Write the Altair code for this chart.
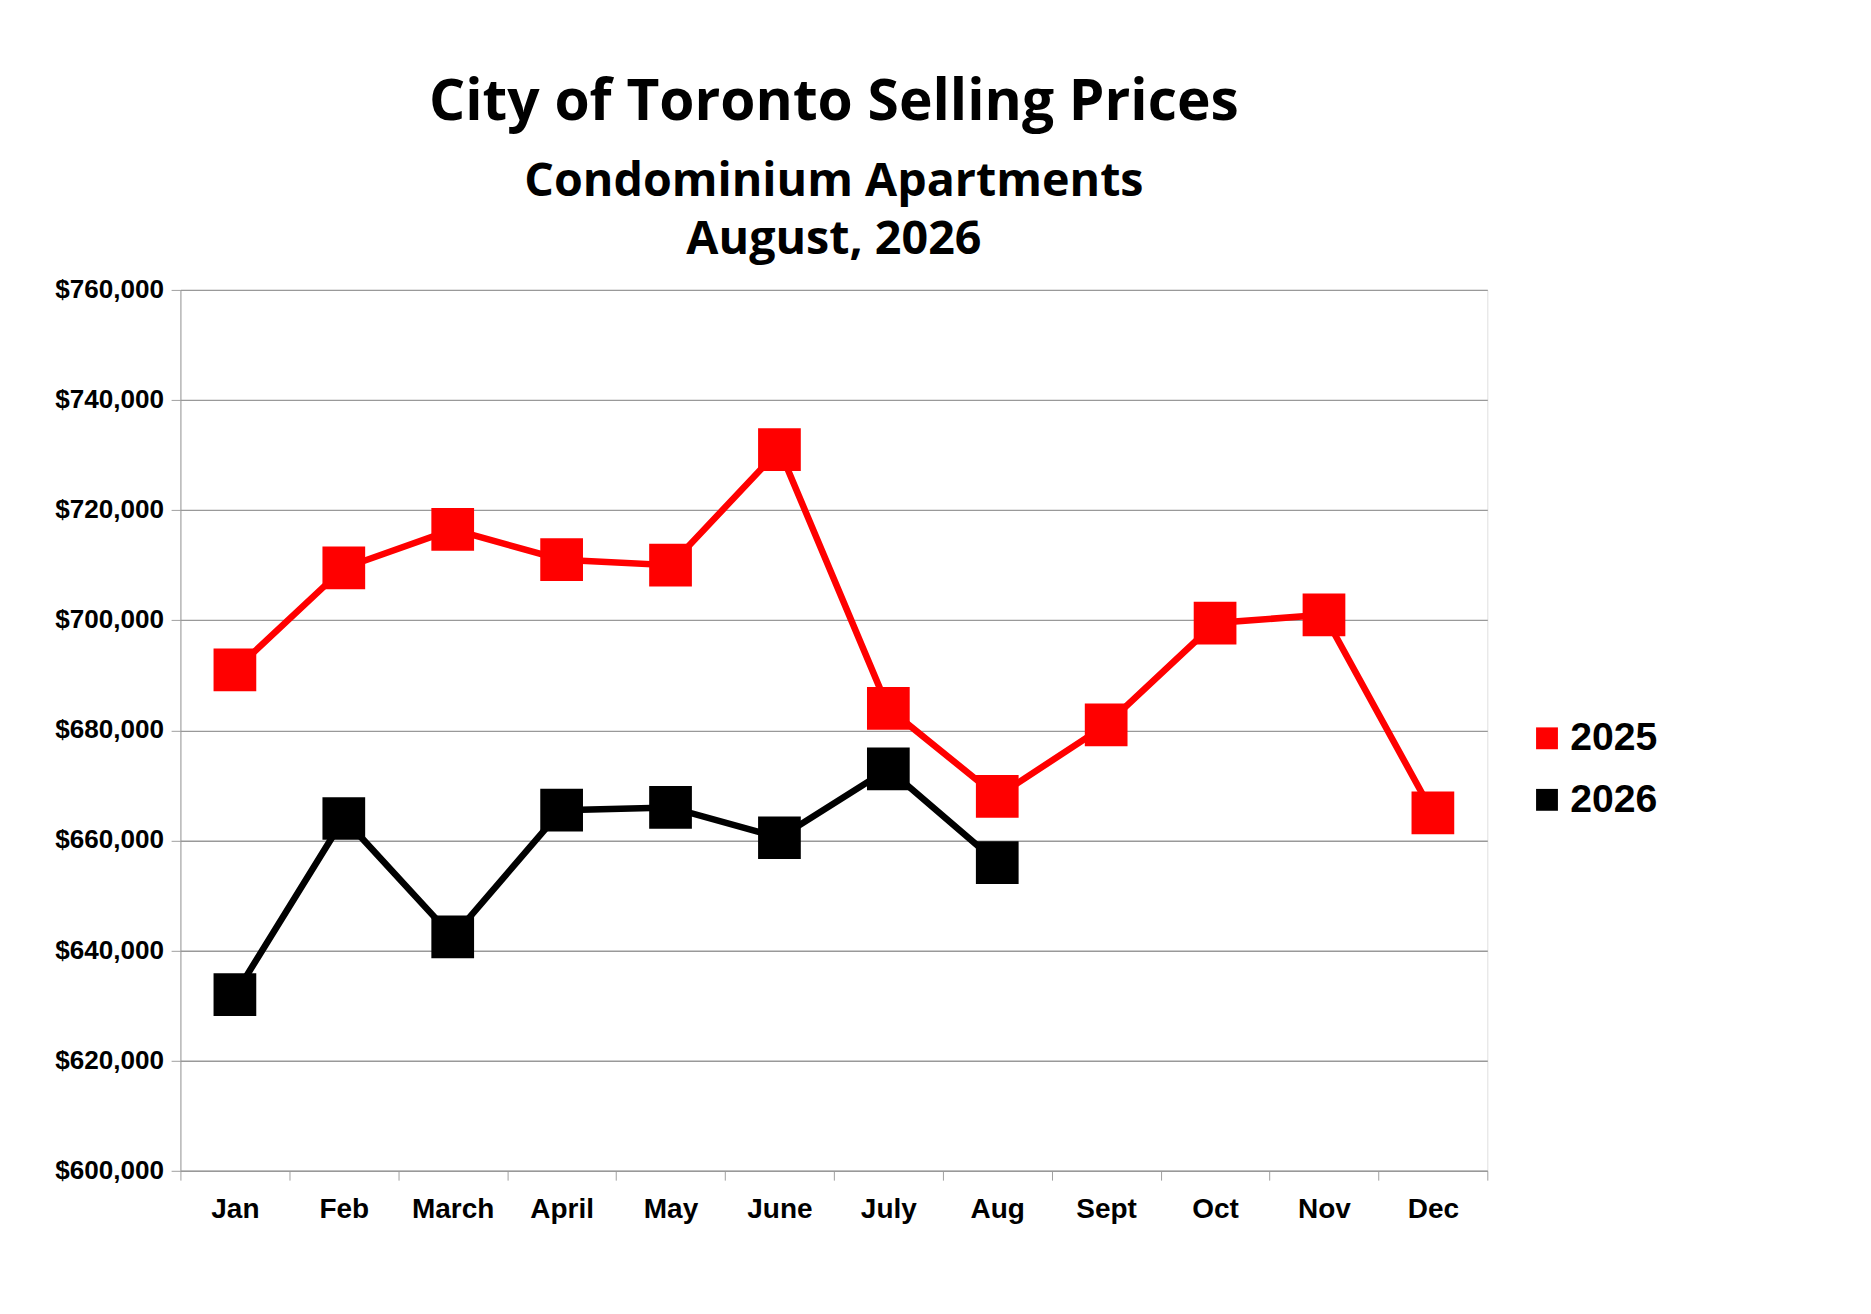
import pandas as pd
import altair as alt

months = ["Jan", "Feb", "March", "April", "May", "June", "July", "Aug", "Sept", "Oct", "Nov", "Dec"]
prices_2025 = [691000, 709500, 716500, 711000, 710000, 731000, 684000, 668000, 681000, 699500, 701000, 665000]
prices_2026 = [632000, 664000, 642500, 665500, 666000, 660500, 673000, 656000]

rows = [{"month": m, "year": "2025", "price": p} for m, p in zip(months, prices_2025)]
rows += [{"month": m, "year": "2026", "price": p} for m, p in zip(months, prices_2026)]
df = pd.DataFrame(rows)

color = alt.Color("year:N", scale=alt.Scale(domain=["2025", "2026"], range=["#ff0000", "#000000"]),
                  legend=alt.Legend(title=None, orient="none", legendX=1445, legendY=460,
                                    symbolType="square", symbolSize=550, labelFontSize=42,
                                    labelFont="Liberation Sans", labelFontWeight="bold",
                                    symbolStrokeWidth=0, rowPadding=24))

x = alt.X("month:N", sort=months, title=None,
          scale=alt.Scale(type="band", paddingInner=0, paddingOuter=0),
          axis=alt.Axis(tickBand="extent", labelAngle=0, labelFontSize=30, labelFont="Liberation Sans",
                        labelFontWeight="bold", labelPadding=16, grid=False, tickSize=10,
                        domainColor="#999", tickColor="#999", labelColor="black"))
y = alt.Y("price:Q", title=None,
          scale=alt.Scale(domain=[600000, 760000], nice=False),
          axis=alt.Axis(values=list(range(600000, 760001, 20000)), format="$,.0f",
                        labelFontSize=28, labelFont="Liberation Sans", labelFontWeight="bold",
                        gridColor="#999", gridWidth=1.5, domainColor="#999", tickColor="#999",
                        tickSize=10, labelPadding=8, labelColor="black"))

base = alt.Chart(df).encode(x=x, y=y, color=color)
lines = base.mark_line(strokeWidth=7)
points = base.mark_point(shape="square", filled=True, size=2100, opacity=1)

chart = (lines + points).properties(
    width=1402, height=945,
    title=alt.TitleParams(
        "City of Toronto Selling Prices",
        subtitle=["Condominium Apartments", "August, 2026"],
        font="Open Sans", fontSize=61, fontWeight="bold", color="black",
        subtitleFont="Open Sans", subtitleFontSize=50, subtitleFontWeight="bold",
        subtitleColor="black", subtitleLineHeight=62, subtitlePadding=28, offset=14,
        anchor="middle"),
).configure_view(stroke=None).configure(padding={"left": 50, "top": 25, "right": 220, "bottom": 20})

chart.save("out.html", embed_options={"renderer": "svg", "actions": False})
